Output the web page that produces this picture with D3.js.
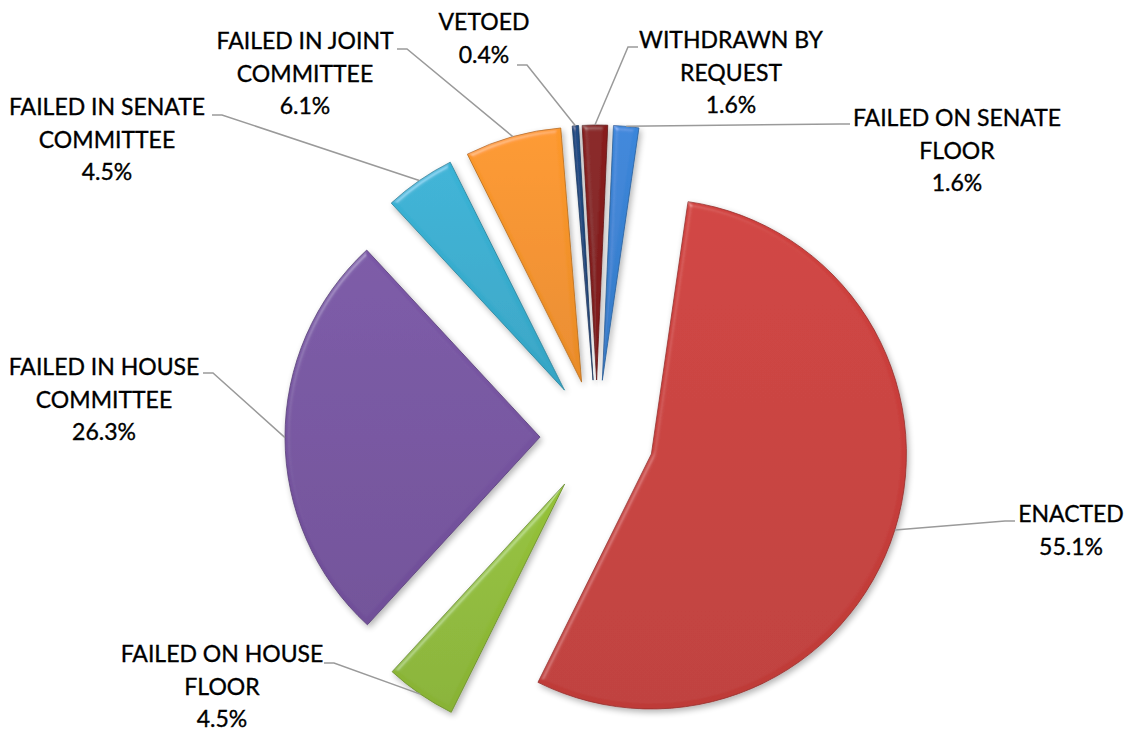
<!DOCTYPE html>
<html>
<head>
<meta charset="utf-8">
<script src="https://cdn.jsdelivr.net/npm/d3@7/dist/d3.min.js"></script>
<style>
  html, body { margin: 0; padding: 0; background: #fff; }
  svg { display: block; }
  .lbl { font-family: Lato, "Open Sans", sans-serif; font-size: 23px; fill: #000; stroke: #000; stroke-width: 0.35; }
  .leader { fill: none; stroke: #9a9a9a; stroke-width: 1.5; }
</style>
</head>
<body>
<div id="chart"></div>
<script>
/* ── data (Excel order: first slice at 12 o'clock, clockwise) ── */
const categories = [
    'FAILED ON SENATE FLOOR',
    'ENACTED',
    'FAILED ON HOUSE FLOOR',
    'FAILED IN HOUSE COMMITTEE',
    'FAILED IN SENATE COMMITTEE',
    'FAILED IN JOINT COMMITTEE',
    'VETOED',
    'WITHDRAWN BY REQUEST'
];
const shares = [1.6, 55.1, 4.5, 26.3, 4.5, 6.1, 0.4, 1.6];
const labelLines = [
    ['FAILED ON SENATE', 'FLOOR'],
    ['ENACTED'],
    ['FAILED ON HOUSE', 'FLOOR'],
    ['FAILED IN HOUSE', 'COMMITTEE'],
    ['FAILED IN SENATE', 'COMMITTEE'],
    ['FAILED IN JOINT', 'COMMITTEE'],
    ['VETOED'],
    ['WITHDRAWN BY', 'REQUEST']
];
const colors = ['#3a84d6', '#cc3f3c', '#92bf38', '#7855a3', '#38b0d2', '#f9952a', '#1f4a82', '#861c1c'];

/* ── layout ── */
const W = 1128, H = 732;
const CX = 597, CY = 437;
const R = 255;
const EXPLODE = 57;
const START = 2.5 * Math.PI / 180;
const LINE_H = 32.5;

/* label centre x, first line centre y, leader anchor, stub length */
const labelPos = [
    { x: 957,  y: 118, ax: 850, ay: 124, stub: -10 },
    { x: 1071, y: 514, ax: 1015, ay: 521, stub: -10 },
    { x: 222,  y: 654, ax: 324, ay: 663, stub: 10 },
    { x: 104,  y: 367, ax: 203, ay: 373, stub: 10 },
    { x: 107,  y: 107, ax: 212, ay: 115, stub: 10 },
    { x: 305,  y: 41,  ax: 397, ay: 49,  stub: 10 },
    { x: 484,  y: 22,  ax: 517, ay: 65,  stub: 10 },
    { x: 731,  y: 40,  ax: 638, ay: 47,  stub: -10 }
];

const data = categories.map((c, i) => ({ name: c, value: shares[i], lines: labelLines[i], color: colors[i], pos: labelPos[i] }));

const pie = d3.pie().sort(null).value(d => d.value)
    .startAngle(START).endAngle(START + 2 * Math.PI);
const arcs = pie(data);

const arc = d3.arc().innerRadius(0).outerRadius(R);
const rim = d3.arc().innerRadius(R).outerRadius(R);

function offset(a) {
    const m = (a.startAngle + a.endAngle) / 2;
    return [EXPLODE * Math.sin(m), -EXPLODE * Math.cos(m)];
}

const svg = d3.select('#chart').append('svg')
    .attr('width', W).attr('height', H);

const defs = svg.append('defs');

/* Bevel + soft shadow, roughly like Office's 3D-format pie */
const f = defs.append('filter').attr('id', 'bevel')
    .attr('x', '-20%').attr('y', '-20%').attr('width', '140%').attr('height', '140%');
f.append('feGaussianBlur').attr('in', 'SourceAlpha').attr('stdDeviation', 2.5).attr('result', 'b');
const spec = f.append('feSpecularLighting').attr('in', 'b')
    .attr('surfaceScale', 3).attr('specularConstant', 0.55).attr('specularExponent', 28)
    .attr('lighting-color', '#ffffff').attr('result', 's');
spec.append('feDistantLight').attr('azimuth', 235).attr('elevation', 40);
f.append('feComposite').attr('in', 's').attr('in2', 'SourceAlpha').attr('operator', 'in').attr('result', 'sIn');
f.append('feComposite').attr('in', 'SourceGraphic').attr('in2', 'sIn').attr('operator', 'arithmetic')
    .attr('k1', 0).attr('k2', 1).attr('k3', 0.35).attr('k4', 0).attr('result', 'lit');
f.append('feGaussianBlur').attr('in', 'SourceAlpha').attr('stdDeviation', 3).attr('result', 'sb');
f.append('feOffset').attr('in', 'sb').attr('dx', 2).attr('dy', 3).attr('result', 'so');
f.append('feComponentTransfer').attr('in', 'so').attr('result', 'sh')
    .append('feFuncA').attr('type', 'linear').attr('slope', 0.3);
const merge = f.append('feMerge');
merge.append('feMergeNode').attr('in', 'sh');
merge.append('feMergeNode').attr('in', 'lit');

arcs.forEach((a, i) => {
    const c = d3.color(a.data.color);
    const g = defs.append('linearGradient').attr('id', `grad-${i}`)
        .attr('x1', 0).attr('y1', 0).attr('x2', 0).attr('y2', 1);
    g.append('stop').attr('offset', '0%').attr('stop-color', c.brighter(0.05));
    g.append('stop').attr('offset', '100%').attr('stop-color', c.darker(0.2));
});

const root = svg.append('g').attr('transform', `translate(${CX},${CY})`);

/* ── leader lines ── */
const leaders = svg.append('g');
arcs.forEach(a => {
    const p = a.data.pos;
    const [ox, oy] = offset(a);
    const [rx, ry] = rim.centroid(a);
    const tx = CX + ox + rx, ty = CY + oy + ry;
    leaders.append('path').attr('class', 'leader')
        .attr('d', d3.line()([[p.ax, p.ay], [p.ax + p.stub, p.ay], [tx, ty]]));
});

/* ── slices ── */
root.selectAll('path.slice').data(arcs).join('path')
    .attr('class', 'slice')
    .attr('transform', d => `translate(${offset(d)})`)
    .attr('d', arc)
    .attr('fill', (d, i) => `url(#grad-${i})`)
    .attr('stroke', d => d3.color(d.data.color).darker(0.9))
    .attr('stroke-width', 0.8)
    .attr('stroke-linejoin', 'round')
    .attr('filter', 'url(#bevel)');

/* ── labels ── */
const lbl = svg.append('g');
arcs.forEach(a => {
    const p = a.data.pos;
    const t = lbl.append('text').attr('class', 'lbl').attr('text-anchor', 'middle');
    const lines = a.data.lines.concat([`${a.data.value.toFixed(1)}%`]);
    lines.forEach((s, k) => {
        t.append('tspan').attr('x', p.x).attr('y', p.y + k * LINE_H + 8).text(s);
    });
});
</script>
</body>
</html>
